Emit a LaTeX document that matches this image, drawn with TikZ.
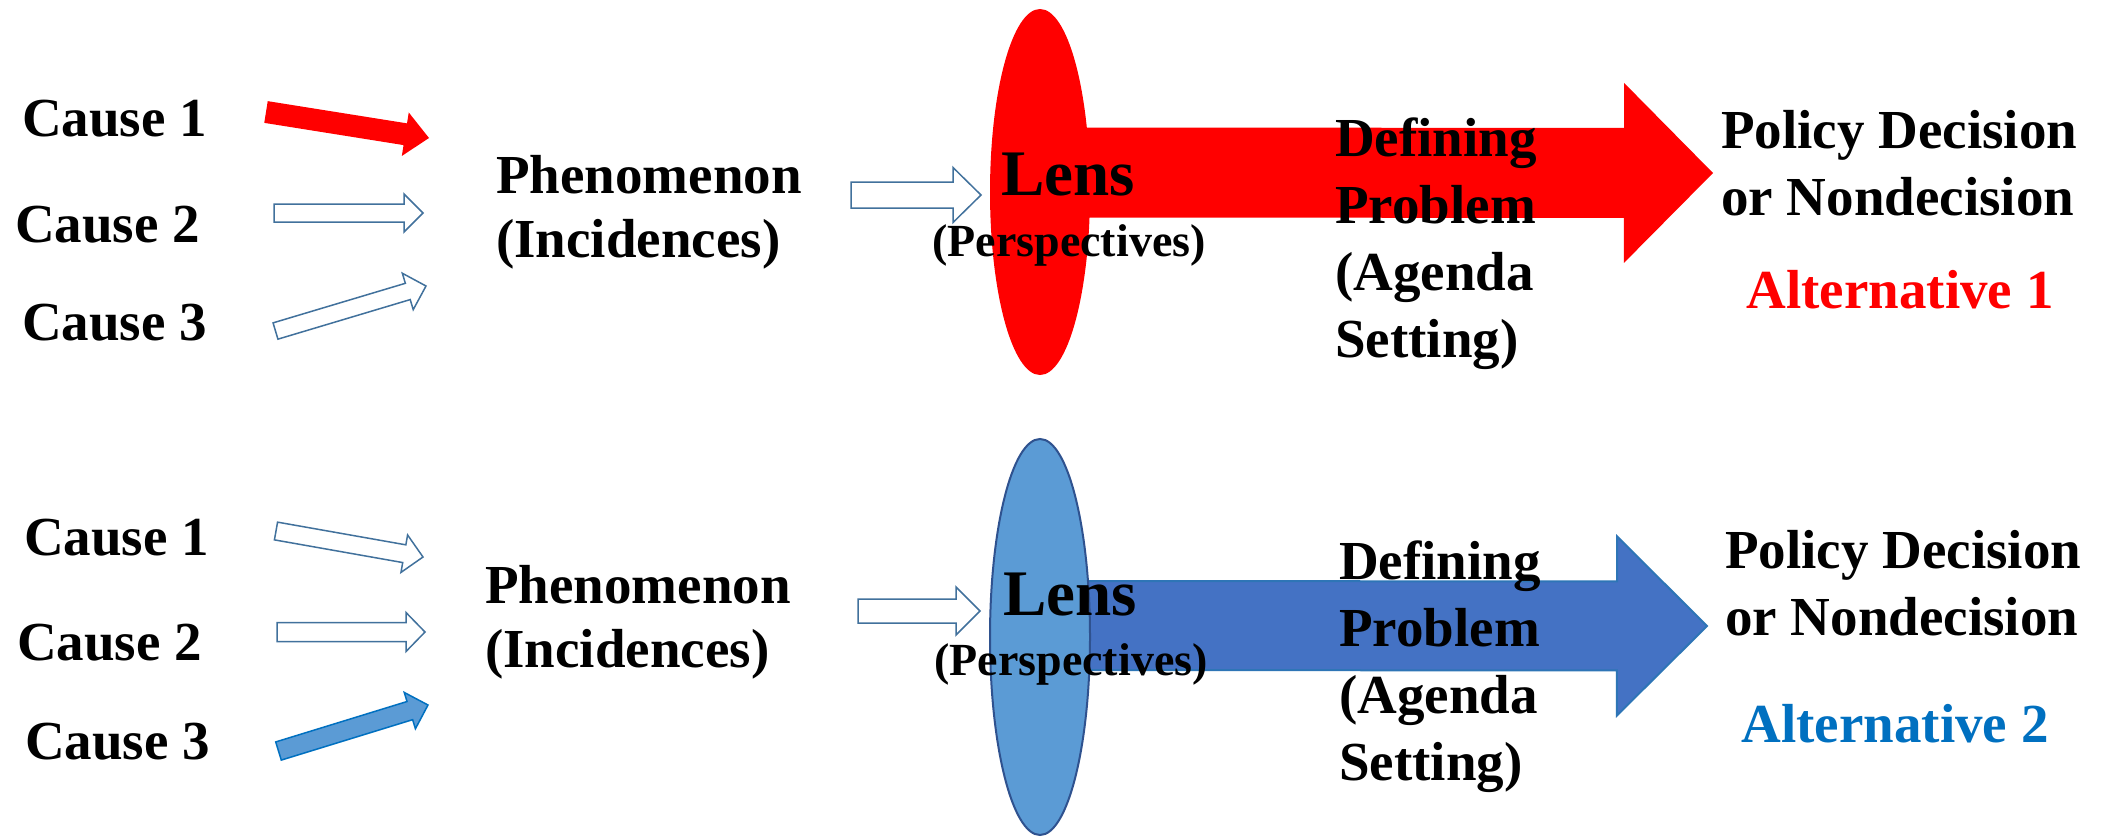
\documentclass[tikz,border=0pt]{standalone}
\usepackage{fontspec}
\setmainfont{Liberation Serif}
\usetikzlibrary{calc,shapes.geometric}
\definecolor{pptred}{HTML}{FF0000}
\definecolor{outl}{HTML}{41719C}
\definecolor{lightblue}{HTML}{5B9BD5}
\definecolor{midblue}{HTML}{4472C4}
\definecolor{edgeblue}{HTML}{2E75B6}
\definecolor{darkedge}{HTML}{2F528F}
\definecolor{altblue}{HTML}{0070C0}
% block arrow: #1 style, #2 tail, #3 tip, #4 shaft half width, #5 head half width, #6 head length
\newcommand{\blockarr}[6]{%
  \path[#1] let \p1=(#2), \p2=(#3),
     \n1={atan2(\y2-\y1,\x2-\x1)},
     \n2={veclen(\x2-\x1,\y2-\y1)} in
     ($(\p1)+(\n1+90:#4pt)$)
  -- ($(\p1)+(\n1:{(\n2-#6)*1pt})+(\n1+90:#4pt)$)
  -- ($(\p1)+(\n1:{(\n2-#6)*1pt})+(\n1+90:#5pt)$)
  -- (\p2)
  -- ($(\p1)+(\n1:{(\n2-#6)*1pt})+(\n1-90:#5pt)$)
  -- ($(\p1)+(\n1:{(\n2-#6)*1pt})+(\n1-90:#4pt)$)
  -- ($(\p1)+(\n1-90:#4pt)$) -- cycle;}
\tikzset{
  lbl/.style={inner sep=0pt, anchor=base west, align=left,
    font=\fontsize{55}{67}\selectfont\bfseries},
  phen/.style={lbl, font=\fontsize{55}{64}\selectfont\bfseries},
  lenslbl/.style={inner sep=0pt, anchor=base, font=\fontsize{65}{70}\selectfont\bfseries},
  persp/.style={inner sep=0pt, anchor=base, font=\fontsize{46}{50}\selectfont\bfseries},
  alt/.style={inner sep=0pt, anchor=base, font=\fontsize{55}{67}\selectfont\bfseries},
  hollow/.style={draw=outl, fill=white, line width=1.5pt, line join=miter},
  redfill/.style={fill=pptred},
  bluefill/.style={draw=altblue, fill=lightblue, line width=1.5pt, line join=miter},
  bigblue/.style={draw=edgeblue, fill=midblue, line width=2pt, line join=miter},
}
\begin{document}
\begin{tikzpicture}[x=1pt,y=-1pt]
\useasboundingbox (0,0) rectangle (2107,836);
\fill[white] (0,0) rectangle (2107,836);

% ---------- top row ----------
\node[lbl] (tc1) at (22,136) {Cause 1};
\node[lbl] (tc2) at (15,242) {Cause 2};
\node[lbl] (tc3) at (22,340) {Cause 3};
\coordinate (ta1s) at (266,112); \coordinate (ta1e) at (429,138);
\coordinate (ta2s) at (274,213); \coordinate (ta2e) at (423,213);
\coordinate (ta3s) at (275.5,331); \coordinate (ta3e) at (426,286);
\blockarr{redfill}{ta1s}{ta1e}{11}{22}{24}
\blockarr{hollow}{ta2s}{ta2e}{9}{19}{19}
\blockarr{hollow}{ta3s}{ta3e}{8.5}{19}{19}
% multi-line nodes: base anchor = baseline of last line
\node[phen] (tphen) at (496,257) {Phenomenon\\(Incidences)};
\coordinate (tls) at (851,195); \coordinate (tle) at (981,195);
\blockarr{hollow}{tls}{tle}{13}{27.5}{28}
\coordinate (tbs) at (1040,172.5); \coordinate (tbe) at (1713,173);
\blockarr{redfill}{tbs}{tbe}{45}{90}{89}
\node[ellipse, fill=pptred, inner sep=0pt, minimum width=100pt, minimum height=366pt] (tlens) at (1040,192) {};
\node[lenslbl] (tlenst) at (1068,195) {Lens};
\node[persp] (tpersp) at (1069,256) {(Perspectives)};
\node[lbl] (tdef) at (1335,357) {Defining\\Problem\\(Agenda\\Setting)};
\node[lbl] (tpol) at (1721,215) {Policy Decision\\or Nondecision};
\node[alt, text=pptred] (talt) at (1900,308) {Alternative 1};

% ---------- bottom row ----------
\node[lbl] (bc1) at (24,555) {Cause 1};
\node[lbl] (bc2) at (17,660) {Cause 2};
\node[lbl] (bc3) at (25,759) {Cause 3};
\coordinate (ba1s) at (276,531); \coordinate (ba1e) at (423,557);
\coordinate (ba2s) at (277,632); \coordinate (ba2e) at (425,632);
\coordinate (ba3s) at (278.5,751); \coordinate (ba3e) at (428,705);
\blockarr{hollow}{ba1s}{ba1e}{9}{19}{19}
\blockarr{hollow}{ba2s}{ba2e}{9.5}{19.5}{19}
\blockarr{bluefill}{ba3s}{ba3e}{9.5}{19}{19}
\node[phen] (bphen) at (485,667) {Phenomenon\\(Incidences)};
\coordinate (bls) at (858,611); \coordinate (ble) at (980,611);
\blockarr{hollow}{bls}{ble}{12}{24}{24}
\coordinate (bbs) at (1040,625.5); \coordinate (bbe) at (1707,626);
\blockarr{bigblue}{bbs}{bbe}{44.5}{89.5}{90}
\node[ellipse, draw=darkedge, line width=2pt, fill=lightblue, inner sep=0pt, minimum width=100pt, minimum height=396pt] (blens) at (1040,637) {};
\node[lenslbl] (blenst) at (1070,615) {Lens};
\node[persp] (bpersp) at (1071,675) {(Perspectives)};
\node[lbl] (bdef) at (1339,780) {Defining\\Problem\\(Agenda\\Setting)};
\node[lbl] (bpol) at (1725,635) {Policy Decision\\or Nondecision};
\node[alt, text=altblue] (balt) at (1895,742) {Alternative 2};
\end{tikzpicture}
\end{document}
